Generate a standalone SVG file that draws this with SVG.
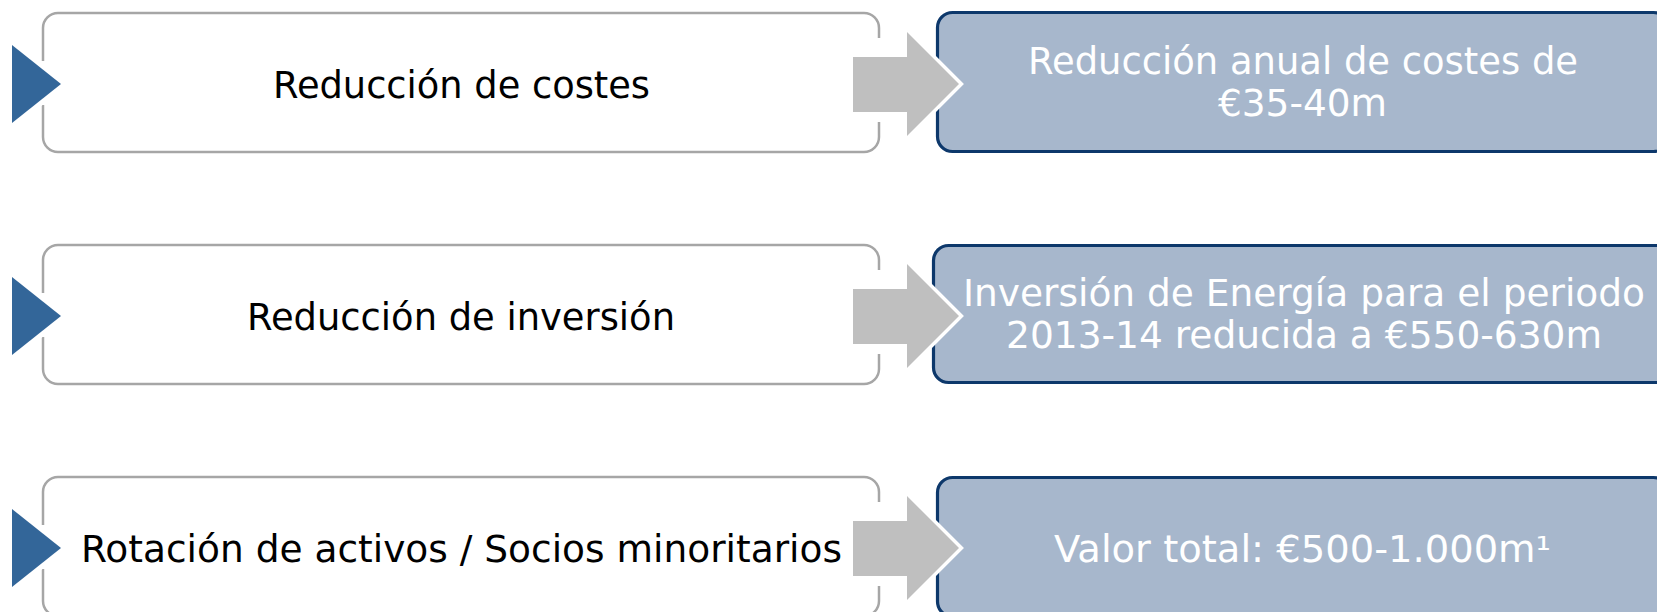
<svg xmlns="http://www.w3.org/2000/svg" width="1657" height="612" viewBox="0 0 1657 612">
<style>
.lbox{fill:none;stroke:#A6A6A6;stroke-width:2.5}
.lfill{fill:#FFFFFF}
.rbox{fill:#A7B7CC;stroke:#0D386B;stroke-width:3.2}
.tri{fill:#336699;stroke:#FFFFFF;stroke-width:10;stroke-linejoin:miter;paint-order:stroke}
.arr{fill:#BFBFBF;stroke:#FFFFFF;stroke-width:7;stroke-linejoin:miter;paint-order:stroke}
.tl{font-family:"DejaVu Sans",Verdana,"Liberation Sans",sans-serif;font-size:36.5px;fill:#000000;text-anchor:middle}
.tr{font-family:"DejaVu Sans",Verdana,"Liberation Sans",sans-serif;font-size:36.5px;fill:#FFFFFF;text-anchor:middle}
</style>
<defs>
<path id="lframe" d="M879,122 V137 A15,15 0 0 1 864,152 H58 A15,15 0 0 1 43,137 V105 M43,61 V28 A15,15 0 0 1 58,13 H864 A15,15 0 0 1 879,28 V38"/>
</defs>
<rect width="1657" height="612" fill="#FFFFFF"/>

<g id="n1-left">
<rect class="lfill" x="43" y="13" width="836" height="139" rx="15"/>
<use href="#lframe" class="lbox"/>
<text class="tl" x="461.5" y="97.5" textLength="377" lengthAdjust="spacingAndGlyphs">Reducción de costes</text>
</g>
<g id="n2-left">
<rect class="lfill" x="43" y="245" width="836" height="139" rx="15"/>
<use href="#lframe" class="lbox" transform="translate(0,232)"/>
<text class="tl" x="461" y="329.5" textLength="428" lengthAdjust="spacingAndGlyphs">Reducción de inversión</text>
</g>
<g id="n3-left">
<rect class="lfill" x="43" y="477" width="836" height="139" rx="15"/>
<use href="#lframe" class="lbox" transform="translate(0,464)"/>
<text class="tl" x="461.5" y="561.5" textLength="761" lengthAdjust="spacingAndGlyphs">Rotación de activos / Socios minoritarios</text>
</g>

<g id="n1-right">
<rect class="rbox" x="937.5" y="12.5" width="731" height="139" rx="15"/>
<text class="tr" x="1303" y="74" textLength="550" lengthAdjust="spacingAndGlyphs">Reducción anual de costes de</text>
<text class="tr" x="1302.5" y="116" textLength="169" lengthAdjust="spacingAndGlyphs">€35-40m</text>
</g>
<g id="n2-right">
<rect class="rbox" x="933.5" y="245.5" width="739" height="137" rx="15"/>
<text class="tr" x="1304" y="306" textLength="682" lengthAdjust="spacingAndGlyphs">Inversión de Energía para el periodo</text>
<text class="tr" x="1304" y="348" textLength="596" lengthAdjust="spacingAndGlyphs">2013-14 reducida a €550-630m</text>
</g>
<g id="n3-right">
<rect class="rbox" x="937.5" y="477.5" width="731" height="139" rx="15"/>
<text class="tr" x="1302.5" y="562" textLength="497" lengthAdjust="spacingAndGlyphs">Valor total: €500-1.000m¹</text>
</g>

<g id="markers">
<polygon class="tri" points="12,45 61,84 12,123"/>
<polygon class="tri" points="12,277 61,316 12,355"/>
<polygon class="tri" points="12,509 61,548 12,587"/>
</g>

<g id="connectors">
<polygon class="arr" points="853,57 907,57 907,32 959,84 907,136 907,112 853,112"/>
<polygon class="arr" points="853,289 907,289 907,264 959,316 907,368 907,344 853,344"/>
<polygon class="arr" points="853,521 907,521 907,496 959,548 907,600 907,576 853,576"/>
</g>
</svg>
